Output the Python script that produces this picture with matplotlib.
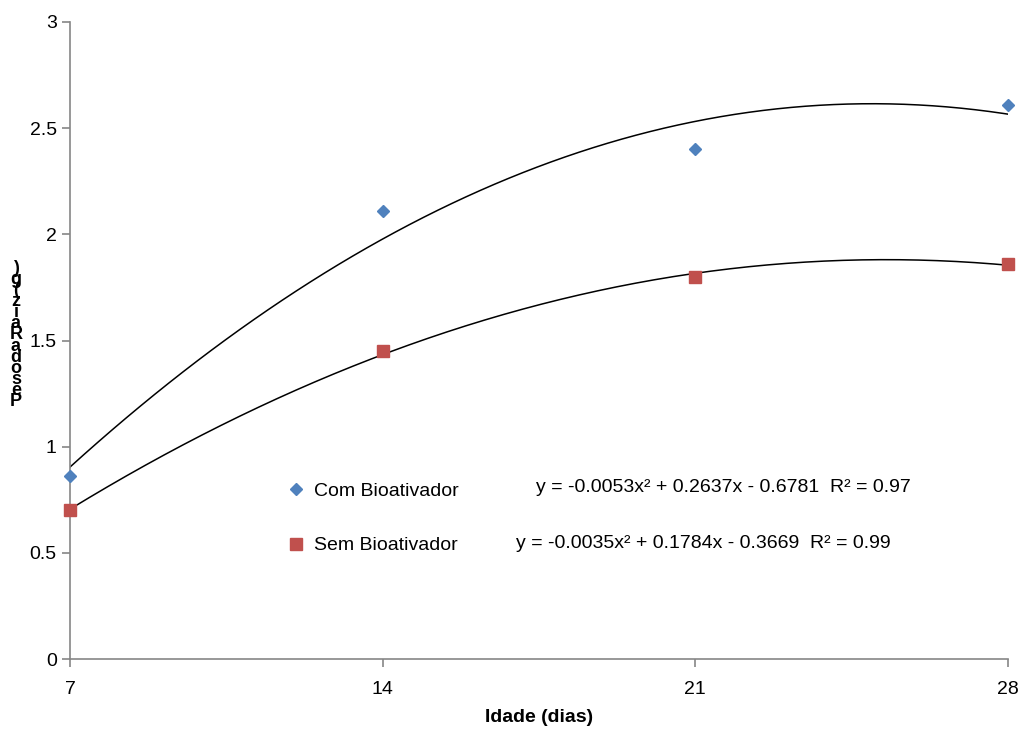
import numpy as np
import matplotlib.pyplot as plt

# data
dias = [7, 14, 21, 28]
com_bio = [0.86, 2.11, 2.40, 2.61]
sem_bio = [0.70, 1.45, 1.80, 1.86]

# trendline equations (as printed on the chart)
eq_com = 'y = -0.0053x² + 0.2637x - 0.6781  R² = 0.97'
eq_sem = 'y = -0.0035x² + 0.1784x - 0.3669  R² = 0.99'

plt.rcParams['font.family'] = ['Liberation Sans', 'DejaVu Sans']

fig = plt.figure(figsize=(10.2, 7.29), dpi=100)
ax = fig.add_axes([70 / 1020, 70 / 729, 938 / 1020, 637 / 729])

# 2nd order polynomial trendlines fitted to the points
xs = np.linspace(7, 28, 200)
ax.plot(xs, np.polyval(np.polyfit(dias, com_bio, 2), xs), color='black', lw=1.1)
ax.plot(xs, np.polyval(np.polyfit(dias, sem_bio, 2), xs), color='black', lw=1.1)

ax.plot(dias, com_bio, 'D', color='#4F81BD', ms=6.5, ls='none',
        label='Com Bioativador', clip_on=False, zorder=3)
ax.plot(dias, sem_bio, 's', color='#C0504D', ms=8, ls='none',
        label='Sem Bioativador', clip_on=False, zorder=3)

ax.set_xlim(7, 28)
ax.set_ylim(0, 3)
ax.set_xticks(dias)
ax.set_yticks([0, 0.5, 1, 1.5, 2, 2.5, 3])
ax.set_yticklabels(['0', '0.5', '1', '1.5', '2', '2.5', '3'])

for s in ['top', 'right']:
    ax.spines[s].set_visible(False)
for s in ['left', 'bottom']:
    ax.spines[s].set_color('#868686')
    ax.spines[s].set_linewidth(1.2)
ax.tick_params(axis='both', colors='#868686', labelcolor='black',
               labelsize=14, length=6, width=1.2)
ax.tick_params(axis='x', pad=10)

ax.legend(loc='upper left', bbox_to_anchor=(0.21, 0.305), frameon=False,
          fontsize=14, labelspacing=1.9, handletextpad=0.3, handlelength=1.2)

ax.text(466 / 938, (659 - 488) / 637, eq_com, transform=ax.transAxes,
        fontsize=14, va='center')
ax.text(446 / 938, (659 - 543) / 637, eq_sem, transform=ax.transAxes,
        fontsize=14, va='center')

ax.set_xlabel('Idade (dias)', fontsize=14, fontweight='bold', labelpad=8)

# y label appears as stacked, overlapping letters in the original
ylab = 'Peso da Raiz (g)'
fig.text(16 / 1020, 1 - 335 / 729, '\n'.join(ylab.replace(' ', '')[::-1]),
         fontsize=13, fontweight='bold', ha='center', va='center',
         linespacing=0.55)

fig.savefig('out.png', dpi=100)
